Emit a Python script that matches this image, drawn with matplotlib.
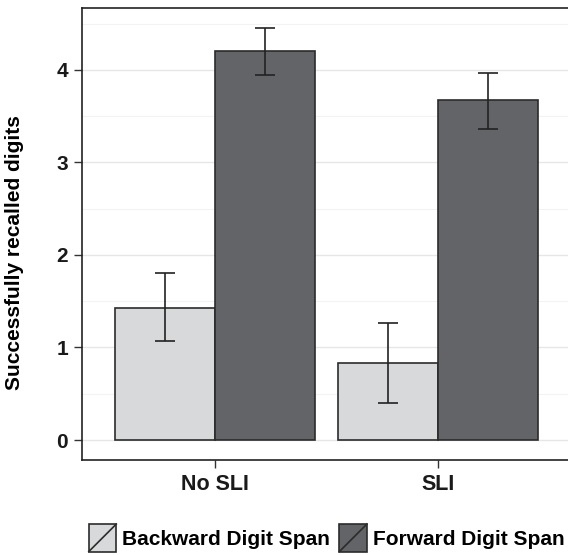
import matplotlib
matplotlib.use('Agg')
import matplotlib.pyplot as plt
from matplotlib.patches import Rectangle
from matplotlib.lines import Line2D
from matplotlib.legend_handler import HandlerBase
import numpy as np

plt.rcParams['font.family'] = ['Liberation Sans', 'DejaVu Sans']
plt.rcParams['font.weight'] = 'bold'

groups = ['No SLI', 'SLI']
series = ['Backward Digit Span', 'Forward Digit Span']
means = [[1.43, 0.83], [4.20, 3.67]]
err_lo = [[1.07, 0.40], [3.95, 3.36]]
err_hi = [[1.80, 1.26], [4.45, 3.97]]
colors = ['#d8d9db', '#636467']
edge = '#2b2b2b'


class DiagHandler(HandlerBase):
    def create_artists(self, legend, orig_handle, xdescent, ydescent,
                       width, height, fontsize, trans):
        x0, y0 = -xdescent, -ydescent
        side = height
        r = Rectangle((x0, y0), side, side, facecolor=orig_handle.get_facecolor(),
                      edgecolor=edge, lw=1.2, transform=trans)
        l = Line2D([x0, x0 + side], [y0, y0 + side], color=edge, lw=1.2, transform=trans)
        return [r, l]


fig = plt.figure(figsize=(5.68, 5.55), dpi=100)
ax = fig.add_axes([0.1444, 0.1712, 0.861, 0.8144])

x = np.arange(1, len(groups) + 1)
w = 0.45
handles = []
for i, s in enumerate(series):
    pos = x + (i - 0.5) * w
    b = ax.bar(pos, means[i], width=w, color=colors[i], edgecolor=edge, lw=1.2, zorder=3, label=s)
    handles.append(b[0])
    lo = np.array(means[i]) - np.array(err_lo[i])
    hi = np.array(err_hi[i]) - np.array(means[i])
    ax.errorbar(pos, means[i], yerr=[lo, hi], fmt='none', ecolor='#222222',
                elinewidth=1.2, capsize=7.5, capthick=1.2, zorder=4)

ax.set_xlim(0.4, 2.6)
ax.set_ylim(-0.216, 4.67)
ax.set_yticks([0, 1, 2, 3, 4])
ax.set_yticks([0.5, 1.5, 2.5, 3.5, 4.5], minor=True)
ax.grid(True, which='major', axis='y', color='#e6e6e6', lw=1.0, zorder=0)
ax.grid(True, which='minor', axis='y', color='#f3f3f3', lw=0.8, zorder=0)
ax.tick_params(axis='y', which='minor', length=0)
ax.set_xticks(x)
ax.set_xticklabels(groups, fontsize=15.5, fontweight='bold', color='#1a1a1a')
for t in ax.get_yticklabels():
    t.set_fontsize(15)
    t.set_fontweight('bold')
    t.set_color('#1a1a1a')
ax.tick_params(axis='both', which='major', length=6, width=1.0, color='#333333', pad=4)
for sp in ax.spines.values():
    sp.set_color('#222222')
    sp.set_linewidth(1.2)
ax.set_ylabel('Successfully recalled digits', fontsize=15, fontweight='bold')
ax.yaxis.set_label_coords(-0.118, 0.459)

fig.legend(handles, series, handler_map={h: DiagHandler() for h in handles},
           loc='center', bbox_to_anchor=(0.575, 0.031), ncol=2, frameon=False,
           handlelength=1.4, handleheight=1.65, handletextpad=0.2,
           columnspacing=0.45, prop={'weight': 'bold', 'size': 15})

fig.savefig('out.png', dpi=100)
